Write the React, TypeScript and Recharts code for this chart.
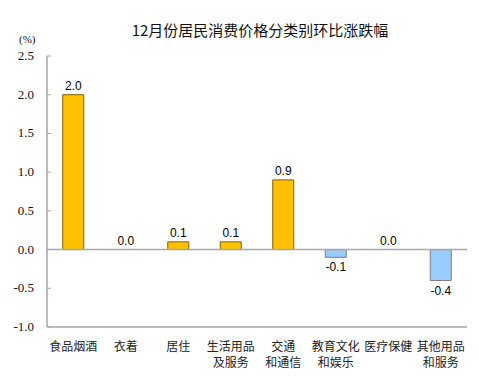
import { BarChart, Bar, XAxis, YAxis, Cell, LabelList, ReferenceLine } from "recharts";

const categories = [
  "食品烟酒",
  "衣着",
  "居住",
  "生活用品\n及服务",
  "交通\n和通信",
  "教育文化\n和娱乐",
  "医疗保健",
  "其他用品\n和服务",
];
const changes = [2.0, 0.0, 0.1, 0.1, 0.9, -0.1, 0.0, -0.4];
const yTicks = [-1.0, -0.5, 0.0, 0.5, 1.0, 1.5, 2.0, 2.5];

const data = categories.map((name, i) => ({ name, value: changes[i] }));

const UP = "#FFC000";
const UP_EDGE = "#7F6000";
const DOWN = "#99CCFF";
const DOWN_EDGE = "#7F7F7F";
const FRAME = "#A6A6A6";
const CJK = "'Noto Sans CJK SC', sans-serif";
const SERIF = "'Liberation Serif', 'Times New Roman', serif";
const AXIS_W = 47; // y axis width = left edge of the plot frame

function CategoryTick({ x, y, payload }: any) {
  const lines = String(payload.value).split("\n");
  return (
    <text x={x} y={y} textAnchor="middle" fontSize={12} fontFamily={CJK} style={{ fontFamily: CJK }} fill="#222">
      {lines.map((l, i) => (
        <tspan key={i} x={x} dy={16}>
          {l}
        </tspan>
      ))}
    </text>
  );
}

// labels sit left of the frame, tick marks point into the plot
function ValueTick({ y, payload }: any) {
  return (
    <g>
      <line x1={AXIS_W} x2={AXIS_W + 4} y1={y} y2={y} stroke={FRAME} />
      <text
        x={AXIS_W - 13}
        y={y}
        dy={4}
        textAnchor="end"
        fontSize={13}
        fontFamily={SERIF}
        style={{ fontFamily: SERIF }}
        fill="#111"
      >
        {Number(payload.value).toFixed(1)}
      </text>
    </g>
  );
}

function ValueLabel({ x, y, width, height, value }: any) {
  const top = Math.min(y, y + height);
  const bottom = Math.max(y, y + height);
  const neg = value < 0;
  return (
    <text
      x={x + width / 2}
      y={neg ? bottom + 14 : top - 5}
      textAnchor="middle"
      fontSize={12}
      style={{ fontFamily: "'Liberation Sans', Arial, sans-serif" }}
      fill="#000"
    >
      {Number(value).toFixed(1)}
    </text>
  );
}

export default function App() {
  return (
    <div style={{ position: "absolute", left: 0, top: 0, width: 479, height: 382, background: "#fff" }}>
      <div
        style={{
          position: "absolute",
          left: 0,
          width: 520,
          top: 19,
          textAlign: "center",
          fontFamily: CJK,
          fontSize: 15,
          color: "#111",
        }}
      >
        12月份居民消费价格分类别环比涨跌幅
      </div>
      <div
        style={{
          position: "absolute",
          left: 19,
          top: 33,
          fontFamily: SERIF,
          fontSize: 11,
          color: "#111",
        }}
      >
        (%)
      </div>
      <BarChart
        width={479}
        height={382}
        data={data}
        margin={{ top: 56, right: 12, bottom: 25, left: 0 }}
        barCategoryGap="30%"
      >
        <XAxis
          dataKey="name"
          interval={0}
          height={30}
          tick={<CategoryTick />}
          tickLine={false}
          axisLine={{ stroke: FRAME, strokeWidth: 1.5 }}
        />
        <XAxis
          xAxisId="top"
          orientation="top"
          dataKey="name"
          tick={false}
          tickLine={false}
          axisLine={{ stroke: FRAME, strokeWidth: 1.5 }}
          height={0}
        />
        <YAxis
          width={AXIS_W}
          domain={[-1, 2.5]}
          ticks={yTicks}
          interval={0}
          tick={<ValueTick />}
          tickLine={false}
          axisLine={{ stroke: FRAME, strokeWidth: 1.5 }}
        />
        <YAxis
          yAxisId="right"
          orientation="right"
          tick={false}
          tickLine={false}
          axisLine={{ stroke: FRAME, strokeWidth: 1.5 }}
          width={0}
        />
        <ReferenceLine y={0} stroke={FRAME} strokeWidth={1.5} />
        <Bar
          dataKey="value"
          isAnimationActive={false}
          strokeWidth={1}
          minPointSize={(v: number) => (v === 0 ? 0.01 : 0)}
        >
          {data.map((d, i) => (
            <Cell
              key={i}
              fill={d.value < 0 ? DOWN : d.value === 0 ? "none" : UP}
              stroke={d.value < 0 ? DOWN_EDGE : d.value === 0 ? "none" : UP_EDGE}
            />
          ))}
          <LabelList dataKey="value" content={<ValueLabel />} />
        </Bar>
      </BarChart>
    </div>
  );
}
